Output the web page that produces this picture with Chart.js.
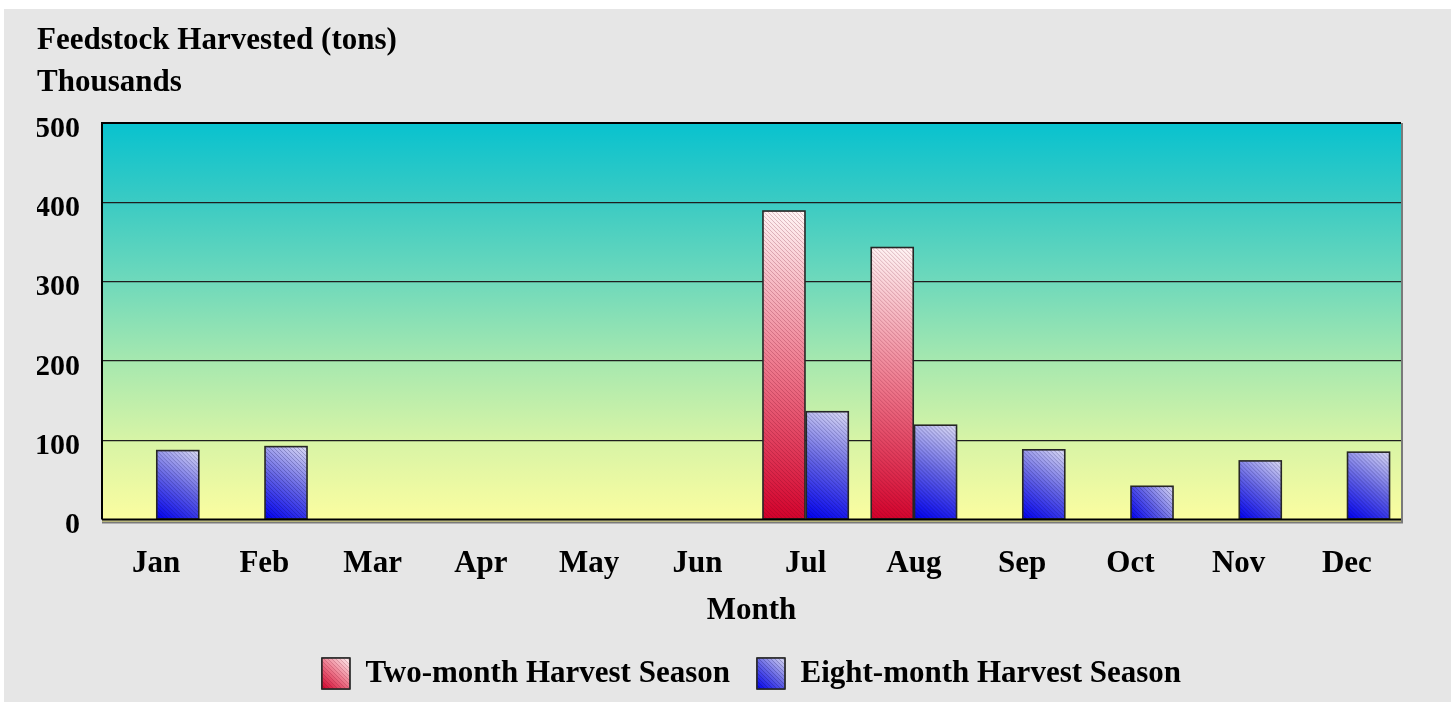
<!DOCTYPE html>
<html>
<head>
<meta charset="utf-8">
<script src="https://cdn.jsdelivr.net/npm/chart.js@4"></script>
<style>
  html, body { margin: 0; padding: 0; background: #ffffff; }
  #wrap { position: absolute; left: 4px; top: 9px; width: 1447px; height: 693px; background: #e6e6e6; }
</style>
</head>
<body>
<div id="wrap"><canvas id="c"></canvas></div>
<script>
const categories = ['Jan','Feb','Mar','Apr','May','Jun','Jul','Aug','Sep','Oct','Nov','Dec'];
const twoMonth   = [0, 0, 0, 0, 0, 0, 389, 343, 0, 0, 0, 0];
const eightMonth = [87, 92, 0, 0, 0, 0, 136, 119, 88, 42, 74, 85];
const yTicks = [0, 100, 200, 300, 400, 500];
const titleLines = ['Feedstock Harvested (tons)', 'Thousands'];
const seriesNames = ['Two-month Harvest Season', 'Eight-month Harvest Season'];

const FONT = '"Liberation Serif", "Times New Roman", serif';
Chart.defaults.font.family = FONT;
Chart.defaults.font.size = 31;
Chart.defaults.font.weight = 'bold';
Chart.defaults.color = '#000';

const palettes = [
  { stops: ['#d2002a', '#ee7a8e', '#fff6f6'], hatch: 'rgba(110,0,30,0.22)' },
  { stops: ['#0000f0', '#6464e4', '#dcdcf4'], hatch: 'rgba(0,0,70,0.24)' }
];

function paintBox(ctx, left, top, w, h, pal) {
  if (h <= 0 || w <= 0) return;
  ctx.save();
  const g = ctx.createLinearGradient(left, top + h, left + w, top);
  g.addColorStop(0, pal.stops[0]);
  g.addColorStop(0.5, pal.stops[1]);
  g.addColorStop(1, pal.stops[2]);
  ctx.fillStyle = g;
  ctx.fillRect(left, top, w, h);
  ctx.beginPath();
  ctx.rect(left, top, w, h);
  ctx.clip();
  ctx.strokeStyle = pal.hatch;
  ctx.lineWidth = 1;
  ctx.beginPath();
  for (let d = -h; d < w; d += 4) {
    ctx.moveTo(left + d, top);
    ctx.lineTo(left + d + h, top + h);
  }
  ctx.stroke();
  ctx.restore();
  ctx.save();
  ctx.strokeStyle = '#262626';
  ctx.lineWidth = 1.6;
  ctx.strokeRect(left, top, w, h);
  ctx.restore();
}

const plotBg = {
  id: 'plotBg',
  beforeDraw(chart) {
    const { ctx, chartArea: a } = chart;
    ctx.save();
    const g = ctx.createLinearGradient(0, a.top, 0, a.bottom);
    g.addColorStop(0, '#08c2cf');
    g.addColorStop(0.2, '#3bcbc3');
    g.addColorStop(0.4, '#6fd9bb');
    g.addColorStop(0.6, '#a6e8af');
    g.addColorStop(0.8, '#d7f4a6');
    g.addColorStop(1, '#fbfda0');
    ctx.fillStyle = g;
    ctx.fillRect(a.left, a.top, a.right - a.left, a.bottom - a.top);
    ctx.restore();
  }
};

const barPaint = {
  id: 'barPaint',
  afterDatasetsDraw(chart) {
    const ctx = chart.ctx;
    chart.data.datasets.forEach((ds, di) => {
      const meta = chart.getDatasetMeta(di);
      meta.data.forEach((el, i) => {
        if (!ds.data[i]) return;
        const p = el.getProps(['x', 'y', 'base', 'width'], true);
        paintBox(ctx, p.x - p.width / 2, p.y, p.width, p.base - p.y, palettes[di]);
      });
    });
  },
  afterDraw(chart) {
    const { ctx, chartArea: a } = chart;
    ctx.save();
    ctx.fillStyle = '#f6f27a';
    ctx.fillRect(a.left, a.bottom + 1, a.right - a.left, 2);
    ctx.strokeStyle = '#000';
    ctx.lineWidth = 2;
    ctx.beginPath();
    ctx.moveTo(a.left, a.bottom);
    ctx.lineTo(a.left, a.top);
    ctx.lineTo(a.right, a.top);
    ctx.moveTo(a.left, a.bottom);
    ctx.lineTo(a.right, a.bottom);
    ctx.stroke();
    ctx.strokeStyle = '#7a7a7a';
    ctx.beginPath();
    ctx.moveTo(a.right + 1, a.top);
    ctx.lineTo(a.right + 1, a.bottom + 3);
    ctx.lineTo(a.left, a.bottom + 3);
    ctx.stroke();
    ctx.restore();
    const lg = chart.legend;
    if (lg && lg.legendHitBoxes) {
      const bw = lg.options.labels.boxWidth, bh = lg.options.labels.boxHeight;
      lg.legendHitBoxes.forEach((hb, i) => {
        paintBox(ctx, hb.left, hb.top, bw, bh, palettes[i]);
      });
    }
  }
};

new Chart(document.getElementById('c'), {
  type: 'bar',
  data: {
    labels: categories,
    datasets: [
      { label: seriesNames[0], data: twoMonth, backgroundColor: '#e05068', borderColor: '#2a2a2a', borderWidth: 1 },
      { label: seriesNames[1], data: eightMonth, backgroundColor: '#5050e8', borderColor: '#2a2a2a', borderWidth: 1 }
    ]
  },
  options: {
    responsive: true,
    maintainAspectRatio: false,
    animation: false,
    layout: { padding: { left: 33, right: 50, top: 0, bottom: 3 } },
    datasets: { bar: { categoryPercentage: 0.8, barPercentage: 0.97 } },
    plugins: {
      title: {
        display: true,
        text: titleLines,
        align: 'start',
        font: { size: 31, weight: 'bold', lineHeight: 42 / 31 },
        padding: { top: 11, bottom: 19 },
        color: '#000'
      },
      legend: {
        position: 'bottom',
        fullSize: false,
        labels: { boxWidth: 28, boxHeight: 31, padding: 27, font: { size: 31, weight: 'bold' }, color: '#000' }
      },
      tooltip: { enabled: false }
    },
    scales: {
      x: {
        grid: { display: false },
        border: { display: false },
        ticks: { padding: 18, font: { size: 31, weight: 'bold' } },
        title: { display: true, text: 'Month', font: { size: 31, weight: 'bold' }, padding: { top: -8, bottom: 1 } }
      },
      y: {
        min: 0, max: 500,
        afterBuildTicks(axis) { axis.ticks = yTicks.map(v => ({ value: v })); },
        afterFit(axis) { axis.width = 65; },
        grid: { color: '#1e1e1e', lineWidth: 1.2, drawTicks: false },
        border: { display: false },
        ticks: { padding: 22, labelOffset: 6, font: { size: 30, weight: 'bold' } }
      }
    }
  },
  plugins: [plotBg, barPaint]
});
</script>
</body>
</html>
